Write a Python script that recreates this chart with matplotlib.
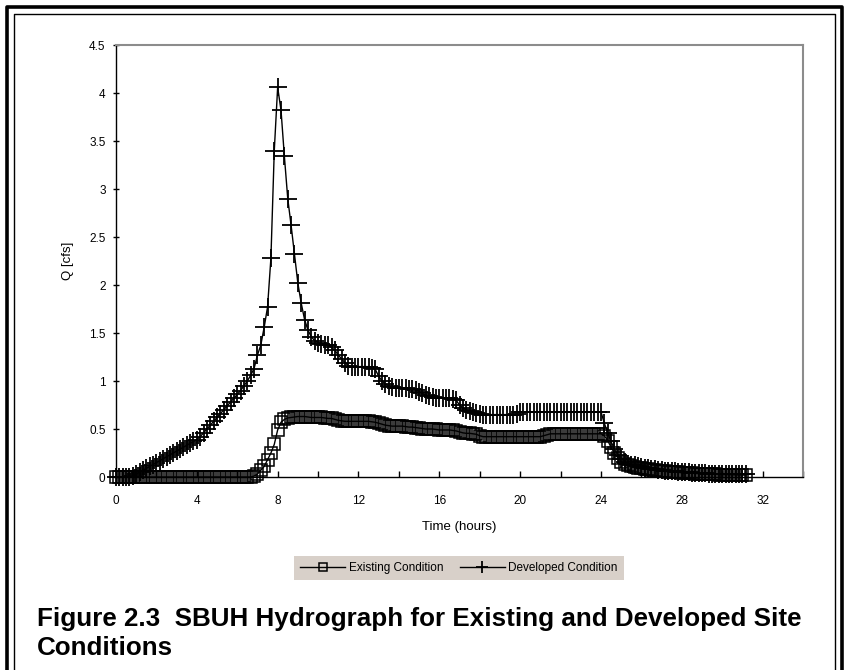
import numpy as np
import matplotlib.pyplot as plt
from matplotlib.lines import Line2D
from matplotlib.ticker import MultipleLocator, FuncFormatter

existing_q = [
    0, 0, 0, 0, 0, 0,                            # 0 h
    0, 0, 0, 0, 0, 0,                            # 1 h
    0, 0, 0, 0, 0, 0,                            # 2 h
    0, 0, 0, 0, 0, 0,                            # 3 h
    0, 0, 0, 0, 0, 0,                            # 4 h
    0, 0, 0, 0, 0, 0,                            # 5 h
    0, 0, 0, 0, 0, 0.01,                         # 6 h
    0.03, 0.07, 0.11, 0.18, 0.25, 0.34,          # 7 h
    0.49, 0.57, 0.60, 0.615, 0.62, 0.625,        # 8 h
    0.63, 0.63, 0.63, 0.625, 0.62, 0.62,         # 9 h
    0.62, 0.62, 0.615, 0.61, 0.61, 0.60,         # 10 h
    0.59, 0.585, 0.58, 0.58, 0.58, 0.58,         # 11 h
    0.58, 0.58, 0.58, 0.58, 0.575, 0.57,         # 12 h
    0.56, 0.55, 0.54, 0.535, 0.53, 0.53,         # 13 h
    0.53, 0.53, 0.525, 0.52, 0.52, 0.515,        # 14 h
    0.51, 0.505, 0.50, 0.50, 0.50, 0.495,        # 15 h
    0.49, 0.49, 0.49, 0.49, 0.485, 0.48,         # 16 h
    0.47, 0.46, 0.455, 0.455, 0.45, 0.445,       # 17 h
    0.43, 0.42, 0.42, 0.42, 0.42, 0.42,          # 18 h
    0.42, 0.42, 0.42, 0.42, 0.42, 0.42,          # 19 h
    0.42, 0.42, 0.42, 0.42, 0.42, 0.42,          # 20 h
    0.42, 0.43, 0.44, 0.45, 0.45, 0.45,          # 21 h
    0.45, 0.45, 0.45, 0.45, 0.45, 0.45,          # 22 h
    0.45, 0.45, 0.45, 0.45, 0.45, 0.45,          # 23 h
    0.45, 0.43, 0.38, 0.31, 0.25, 0.20,          # 24 h
    0.16, 0.14, 0.12, 0.11, 0.10, 0.095,         # 25 h
    0.09, 0.085, 0.08, 0.075, 0.07, 0.065,       # 26 h
    0.06, 0.058, 0.055, 0.052, 0.05, 0.048,      # 27 h
    0.045, 0.042, 0.04, 0.038, 0.036, 0.034,     # 28 h
    0.032, 0.03, 0.029, 0.028, 0.027, 0.026,     # 29 h
    0.025, 0.024, 0.023, 0.022, 0.021, 0.02,     # 30 h
    0.02, 0.02,                                  # 31 h
]

developed_q = [
    0, 0, 0, 0, 0.005, 0.01,                     # 0 h
    0.03, 0.05, 0.07, 0.09, 0.11, 0.13,          # 1 h
    0.15, 0.17, 0.19, 0.21, 0.23, 0.25,          # 2 h
    0.27, 0.29, 0.31, 0.33, 0.35, 0.37,          # 3 h
    0.39, 0.42, 0.46, 0.50, 0.54, 0.58,          # 4 h
    0.62, 0.66, 0.70, 0.74, 0.78, 0.82,          # 5 h
    0.86, 0.90, 0.95, 1.00, 1.06, 1.13,          # 6 h
    1.27, 1.375, 1.56, 1.77, 2.28, 3.40,         # 7 h
    4.06, 3.82, 3.34, 2.90, 2.62, 2.32,          # 8 h
    2.02, 1.81, 1.64, 1.53, 1.46, 1.42,          # 9 h
    1.40, 1.39, 1.38, 1.37, 1.35, 1.32,          # 10 h
    1.27, 1.23, 1.19, 1.16, 1.15, 1.15,          # 11 h
    1.15, 1.15, 1.15, 1.15, 1.14, 1.12,          # 12 h
    1.05, 1.00, 0.97, 0.95, 0.94, 0.93,          # 13 h
    0.93, 0.93, 0.93, 0.92, 0.92, 0.91,          # 14 h
    0.89, 0.87, 0.85, 0.84, 0.83, 0.82,          # 15 h
    0.82, 0.82, 0.82, 0.82, 0.81, 0.80,          # 16 h
    0.75, 0.72, 0.70, 0.69, 0.68, 0.67,          # 17 h
    0.66, 0.65, 0.65, 0.65, 0.65, 0.65,          # 18 h
    0.65, 0.65, 0.65, 0.65, 0.65, 0.66,          # 19 h
    0.68, 0.68, 0.68, 0.68, 0.68, 0.68,          # 20 h
    0.68, 0.68, 0.68, 0.68, 0.68, 0.68,          # 21 h
    0.68, 0.68, 0.68, 0.68, 0.68, 0.68,          # 22 h
    0.68, 0.68, 0.68, 0.68, 0.68, 0.68,          # 23 h
    0.68, 0.56, 0.46, 0.37, 0.29, 0.23,          # 24 h
    0.19, 0.16, 0.14, 0.13, 0.12, 0.11,          # 25 h
    0.10, 0.095, 0.09, 0.085, 0.08, 0.075,       # 26 h
    0.07, 0.067, 0.064, 0.061, 0.058, 0.055,     # 27 h
    0.052, 0.05, 0.048, 0.046, 0.044, 0.042,     # 28 h
    0.04, 0.038, 0.036, 0.035, 0.034, 0.033,     # 29 h
    0.032, 0.031, 0.03, 0.03, 0.03, 0.03,        # 30 h
    0.03, 0.03,                                  # 31 h
]

series_labels = ['Existing Condition', 'Developed Condition']
caption = 'Figure 2.3  SBUH Hydrograph for Existing and Developed Site\nConditions'

# 10-minute time step
time_hr = np.arange(len(existing_q)) / 6.0

plt.rcParams['font.family'] = ['Liberation Sans', 'DejaVu Sans']

fig = plt.figure(figsize=(8.49, 6.70), dpi=100)
ax = fig.add_axes([116 / 849, 1 - 477 / 670, (803 - 116) / 849, (477 - 45) / 670])

ax.plot(time_hr, existing_q, color='black', lw=1.0, marker='s', ms=9,
        mfc='none', mec='black', mew=1.1, clip_on=False, label=series_labels[0])
ax.plot(time_hr, developed_q, color='black', lw=1.0, marker='+', ms=13,
        mew=1.3, clip_on=False, label=series_labels[1])

ax.set_xlim(0, 34)
ax.set_ylim(0, 4.5)
ax.xaxis.set_major_locator(MultipleLocator(2))
ax.xaxis.set_major_formatter(FuncFormatter(lambda v, p: f'{v:g}' if v % 4 == 0 and v <= 32 else ''))
ax.yaxis.set_major_locator(MultipleLocator(0.5))
ax.yaxis.set_major_formatter(FuncFormatter(lambda v, p: f'{v:g}'))
ax.tick_params(axis='x', direction='in', length=4, width=1, labelsize=8.5, pad=13)
ax.tick_params(axis='y', direction='inout', length=5, width=1, labelsize=8.5, pad=5)

for side in ['left', 'bottom']:
    ax.spines[side].set_color('black')
    ax.spines[side].set_linewidth(1.0)
for side in ['top', 'right']:
    ax.spines[side].set_color('#8c8c8c')
    ax.spines[side].set_linewidth(1.5)

ax.set_xlabel('Time (hours)', fontsize=9.5, labelpad=10)
ax.set_ylabel('Q [cfs]', fontsize=9.5, labelpad=11)

leg = fig.legend(loc='center', bbox_to_anchor=(459 / 849, 1 - 568 / 670), ncol=2,
                 fontsize=8.5, frameon=True, fancybox=False, markerscale=0.65,
                 handlelength=3.8, handletextpad=0.3, columnspacing=1.4,
                 borderpad=0.5)
leg.get_frame().set_facecolor('#d8d0c9')
leg.get_frame().set_edgecolor('none')
leg.get_frame().set_alpha(1)

fig.text(37 / 849, 1 - 607 / 670, caption, fontsize=18.7, fontweight='bold',
         va='top', ha='left', linespacing=1.25)

# double border on left, top and right
def fig_line(xs, ys, lw):
    fig.add_artist(Line2D([x / 849 for x in xs], [1 - y / 670 for y in ys],
                          color='black', lw=lw, solid_capstyle='butt'))

fig_line([7, 7, 842, 842], [670, 7, 7, 670], 2.6)
fig_line([14, 14, 835, 835], [670, 14, 14, 670], 1.0)

fig.savefig('out.png', dpi=100)
